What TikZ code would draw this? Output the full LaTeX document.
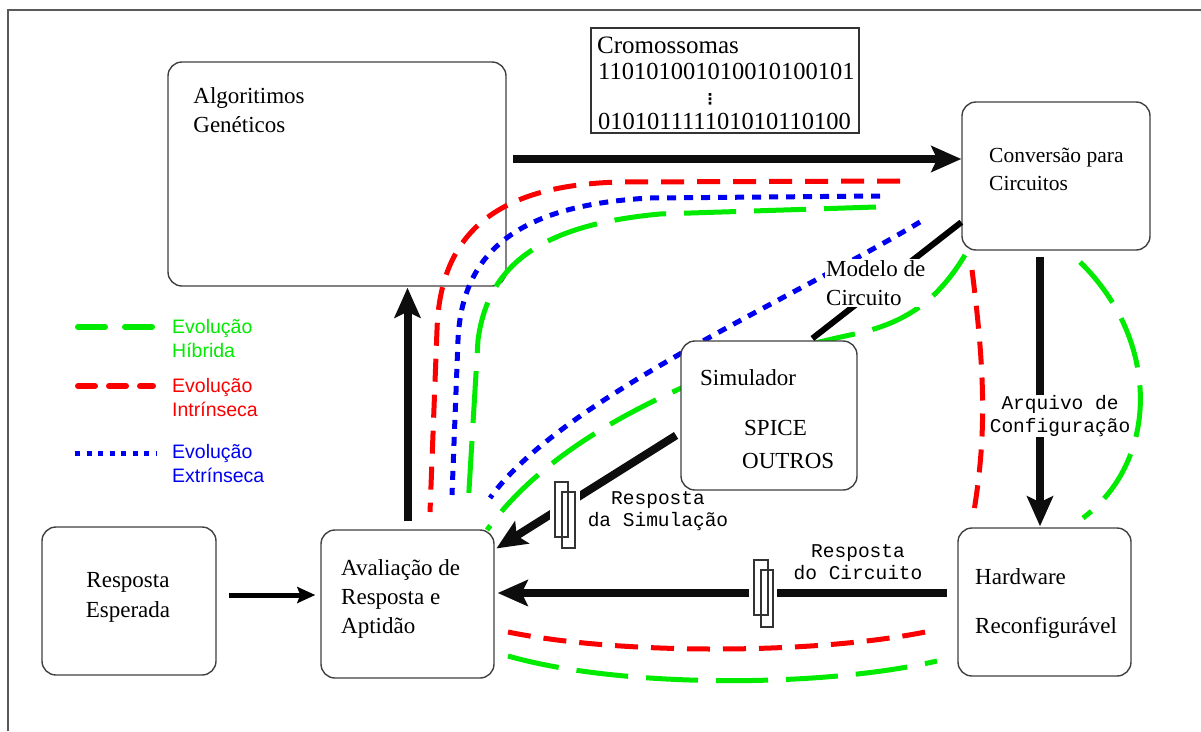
\documentclass[tikz,border=0pt]{standalone}
\usepackage{fontspec}
\setmainfont{Liberation Serif}
\newfontfamily\legfont{Liberation Sans}
\newfontfamily\codefont{Liberation Mono}
\newfontfamily\symfont{DejaVu Sans}
\usetikzlibrary{arrows.meta}

\definecolor{hgreen}{RGB}{0,235,0}
\definecolor{ired}{RGB}{250,0,0}
\definecolor{eblue}{RGB}{0,0,240}

\begin{document}
\begin{tikzpicture}[x=1pt,y=-1pt,
  box/.style={draw=black!75, line width=1.4pt, rounded corners=14pt, fill=white},
  serif/.style={font=\fontsize{23}{29}\selectfont, inner sep=0pt, align=left},
  code/.style={font=\codefont\fontsize{19.5}{22.5}\selectfont, inner sep=1pt, align=center},
  leg/.style={font=\legfont\fontsize{19.5}{24}\selectfont, inner sep=0pt, align=left, anchor=west},
  flow/.style={line width=8pt, black!95, -{Stealth[length=30pt,width=26pt,inset=6pt]}},
  hib/.style={draw=hgreen, line width=5pt, dash pattern=on 52pt off 18pt},
  intr/.style={draw=ired, line width=5pt, dash pattern=on 23pt off 13pt},
  extr/.style={draw=eblue, line width=5pt, dash pattern=on 9pt off 8pt},
  resist/.style={draw=black!80, line width=1.2pt}
]
\useasboundingbox (0,0) rectangle (1201,731);

% outer frame (open on the right and at the bottom)
\draw[line width=2pt, black!65] (8,731) -- (8,10) -- (1201,10);

% main blocks
\node[box, minimum width=338pt, minimum height=224pt] (ag) at (337,174) {};
\node[serif] (agtxt) at (249,110) {Algoritimos\\Genéticos};

\node[draw=black!80, line width=1.4pt, fill=white, minimum width=268pt, minimum height=105pt] (crom) at (725,80.5) {};
\node[font=\fontsize{25}{25}\selectfont, inner sep=0pt, anchor=west] (cromhead) at (597,45) {Cromossomas};
\node[font=\fontsize{24.5}{25}\selectfont, inner sep=0pt, anchor=west] (cromfirst) at (598,71) {110101001010010100101};
\node[font=\symfont\bfseries\fontsize{15}{15}\selectfont, inner sep=0pt] (cromdots) at (710,99) {⋮};
\node[font=\fontsize{24.5}{25}\selectfont, inner sep=0pt, anchor=west] (cromlast) at (598,121) {010101111101010110100};

\node[box, minimum width=188pt, minimum height=148pt] (conv) at (1056,176) {};
\node[font=\fontsize{21.5}{28}\selectfont, inner sep=0pt, align=left, anchor=west] (convtxt) at (989,169) {Conversão para\\Circuitos};

\node[box, minimum width=173pt, minimum height=148pt] (hw) at (1044.5,602) {};
\node[serif, anchor=west] (hwa) at (975,577) {Hardware};
\node[serif, anchor=west] (hwb) at (975,628) {Reconfigurável};

\node[box, minimum width=173pt, minimum height=148pt] (aval) at (407.5,604) {};
\node[serif, anchor=west] (avaltxt) at (341,599) {Avaliação de\\Resposta e\\Aptidão};

\node[box, minimum width=174pt, minimum height=148pt] (esp) at (129,601) {};
\node[serif, align=center, font=\fontsize{23}{30}\selectfont] (esptxt) at (128,597) {Resposta\\Esperada};

% legend
\draw[hgreen, line width=6pt, line cap=round, dash pattern=on 27pt off 20pt] (78,327) -- (153,327);
\node[leg, text=hgreen] (lh) at (172,339) {Evolução\\Híbrida};
\draw[ired, line width=6pt, line cap=round, dash pattern=on 17pt off 14pt] (78,386) -- (153,386);
\node[leg, text=ired] (li) at (172,398) {Evolução\\Intrínseca};
\draw[eblue, line width=5pt, dash pattern=on 5pt off 6.5pt] (75,453) -- (156,453);
\node[leg, text=eblue] (le) at (172,464) {Evolução\\Extrínseca};

% intrinsic evolution (hardware in the loop)
\draw[intr] (900,181) -- (620,182) .. controls (500,185) and (440,230) .. (437,330) -- (430,512);
\draw[intr] (972,270) .. controls (986,380) and (986,440) .. (973,517);
\draw[intr] (508,632) .. controls (620,655) and (820,655) .. (935,630);

% extrinsic evolution (simulation in the loop)
\draw[extr] (880,196) -- (650,198) .. controls (520,205) and (462,250) .. (458,340) -- (452,495);
\draw[extr] (920,222) .. controls (790,300) and (560,400) .. (490,498);

% hybrid evolution
\draw[hib] (876,207) -- (660,214) .. controls (540,225) and (488,265) .. (478,340) -- (468,507);
\draw[hib] (965,255) .. controls (935,305) and (900,325) .. (850,335)
           .. controls (780,350) and (720,370) .. (677,390)
           .. controls (600,425) and (530,470) .. (487,530);
\draw[hib] (1080,262) .. controls (1160,340) and (1160,460) .. (1083,518);
\draw[hib] (508,656) .. controls (620,688) and (820,688) .. (937,661);

% simulator block sits above the paths running behind it
\node[box, minimum width=176pt, minimum height=149pt] (sim) at (769,415.5) {};
\node[serif, anchor=west] (sima) at (700,378) {Simulador};
\node[serif, anchor=west] (simb) at (744,428) {SPICE};
\node[serif, anchor=west] (simc) at (742,461) {OUTROS};

% main data flow
\draw[flow, shorten <=6pt] ([yshift=15pt]ag.east) -- ([yshift=15pt]ag.east -| conv.west);
\draw[flow, shorten <=8pt, shorten >=1pt] (aval.north) -- (aval.north |- ag.south);
\draw[flow, shorten <=6pt, shorten >=1pt] ([xshift=-16pt]conv.south) -- ([xshift=-16pt]conv.south |- hw.north);
\draw[flow, shorten <=10pt, shorten >=3pt] ([yshift=9pt]hw.west) -- ([yshift=9pt]hw.west -| aval.east);
\draw[flow, shorten <=5pt, shorten >=2pt] (sim.191) -- (aval.32);
\draw[line width=5pt, -{Stealth[length=18pt,width=16pt,inset=3pt]}, shorten <=12pt, shorten >=5pt]
  ([yshift=6pt]esp.east) -- ([yshift=6pt]esp.east -| aval.west);
\draw[line width=6pt, shorten >=3pt] (conv.206) -- ([xshift=41pt]sim.north);

% connector labels
\node[serif, fill=white, inner sep=1pt, anchor=west] (lblmod) at (825,283) {Modelo de\\Circuito};
\node[code, fill=white] (lblarq) at (1060,416) {Arquivo de\\Configuração};
\node[code] (lblcirc) at (858,562) {Resposta\\do Circuito};
\node[code] (lblsim) at (658,511) {Resposta\\da Simulação};

% resistor marks on the response paths
\fill[white] (550,487) rectangle (580,540);
\draw[resist] (555,482) rectangle (568,537);
\draw[resist] (562,492) rectangle (575,548);
\fill[white] (749,570) rectangle (777,616);
\draw[resist] (754,560) rectangle (768,615);
\draw[resist] (761,570) rectangle (773,627);
\end{tikzpicture}
\end{document}
